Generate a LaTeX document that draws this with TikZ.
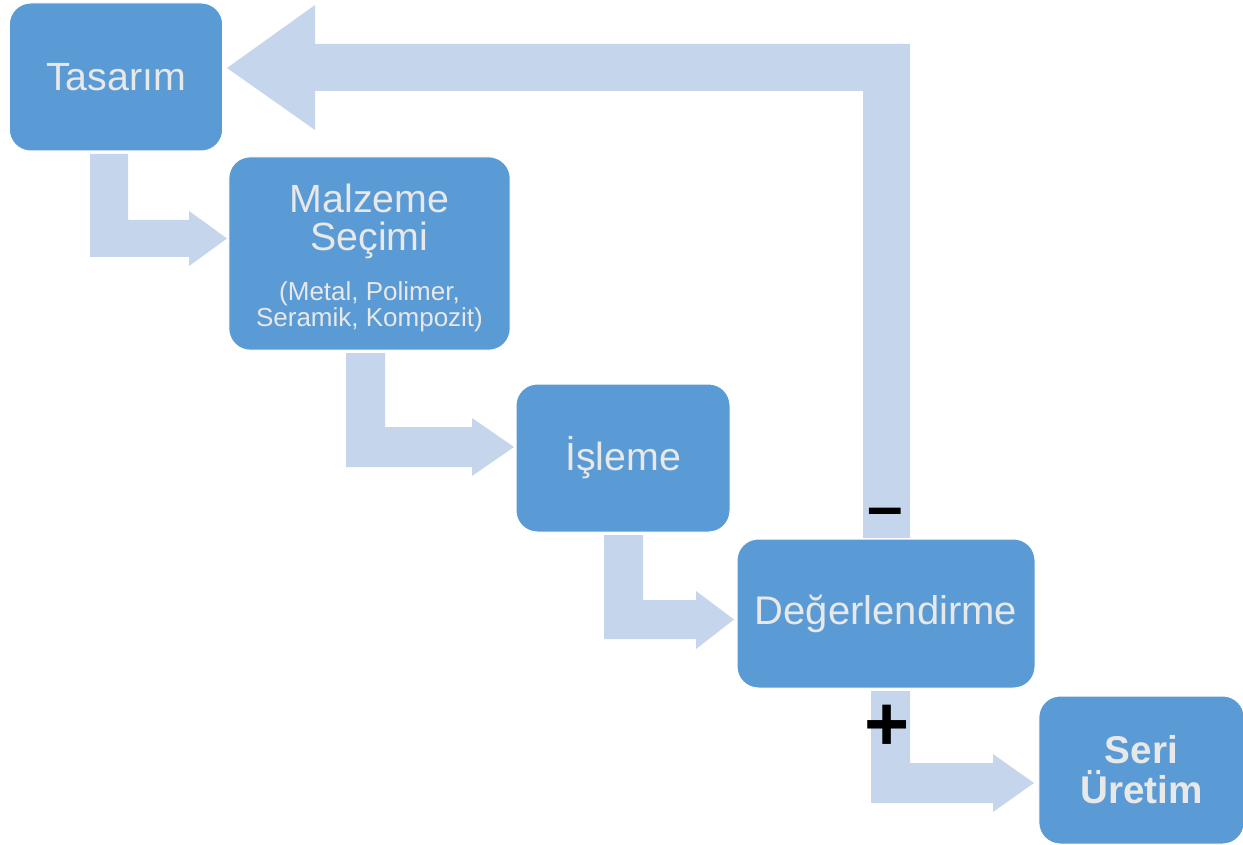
\documentclass[tikz,border=0pt]{standalone}
\usepackage{fontspec}
\setmainfont{Liberation Sans}
\definecolor{boxblue}{HTML}{5B9BD5}
\definecolor{arrowblue}{HTML}{C5D5EB}
\definecolor{txtgray}{HTML}{E8E8E8}
\newcommand\bentarrow[9]{%
  \fill[arrowblue] (#1,#3) -- (#2,#3) -- (#2,#4) -- (#6,#4) -- (#6,#7)
    -- (#9,{(#4+#5)/2}) -- (#6,#8) -- (#6,#5) -- (#1,#5) -- cycle;}
\begin{document}
\begin{tikzpicture}[x=0.75pt,y=-0.75pt,
  stagebox/.style={fill=boxblue,draw=white,line width=0.75pt,rounded corners=16pt,
    text=txtgray,align=center,inner sep=0pt,font=\fontsize{29.5}{31}\selectfont},
  signlabel/.style={text=black,font=\bfseries\fontsize{40}{40}\selectfont,inner sep=0pt}]
\useasboundingbox (0,0) rectangle (1243,845);
% feedback arrow
\fill[arrowblue] (910,44) -- (910,538) -- (863,538) -- (863,91) -- (315,91)
  -- (315,130) -- (227,68) -- (315,5) -- (315,44) -- cycle;
% bent arrows
\bentarrow{90}{128}{154}{220}{257}{189}{211}{266}{227}
\bentarrow{346}{385}{353}{427}{467}{472}{418}{476}{514}
\bentarrow{604}{643}{535}{600}{639}{696}{591}{649}{734}
\bentarrow{871}{910}{691}{763}{803}{993}{754}{812}{1034}
% boxes
\node[stagebox,minimum width=160pt,minimum height=111pt] (tas) at (116,77) {Tasarım};
\node[stagebox,minimum width=211pt,minimum height=145pt] (malz) at (369.5,253.5) {};
\node[text=txtgray,align=center,inner sep=0pt,font=\fontsize{29.5}{31}\selectfont] (malztxt) at (369.5,257.5)
  {Malzeme\\[-2pt]Seçimi\\[6pt]{\fontsize{19.5}{20}\selectfont (Metal, Polimer,}\\[-11.5pt]{\fontsize{19.5}{20}\selectfont Seramik, Kompozit)}};
\node[stagebox,minimum width=160.5pt,minimum height=111pt] (isl) at (623,458) {İşleme};
\node[stagebox,minimum width=223.5pt,minimum height=111.75pt,font=\fontsize{30}{31}\selectfont] (deg) at (886,613.5) {Değerlendirme};
\node[stagebox,minimum width=154pt,minimum height=111pt,font=\bfseries\fontsize{29}{30}\selectfont] (seri) at (1141.5,770)
  {Seri\\Üretim};
% signs
\node[signlabel] (minus) at (885,518) {\fontsize{48}{48}\selectfont –};
\node[signlabel] (plus) at (887,728) {\fontsize{58}{58}\selectfont +};
\end{tikzpicture}
\end{document}
